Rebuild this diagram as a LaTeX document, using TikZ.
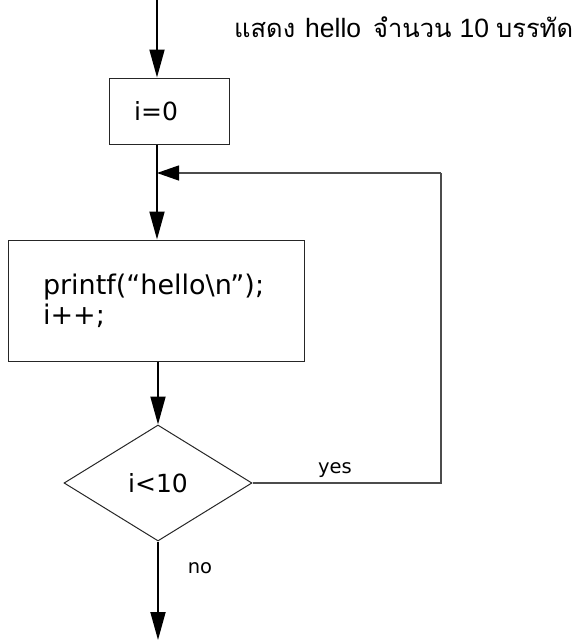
\documentclass[tikz,border=0pt]{standalone}
\usepackage{fontspec}
\setmainfont{DejaVu Sans}
\newfontfamily\thaifont[Script=Thai]{Loma}
\newfontfamily\arialfont{Liberation Sans}
\usetikzlibrary{arrows.meta,shapes.geometric}
\tikzset{
  procbox/.style={draw=black!85, line width=1pt, rectangle, inner sep=0pt},
  decbox/.style={draw=black!85, line width=1pt, diamond, inner sep=0pt, minimum width=188pt, minimum height=116pt, aspect=1.62},
  flow/.style={draw=black, line width=1.8pt, -{Triangle[length=28pt,width=15pt]}},
  loopline/.style={draw=black!70, line width=1.3pt, -{Triangle[length=22pt,width=15pt,fill=black,color=black]}},
  plainline/.style={draw=black!70, line width=1.3pt},
  lbl/.style={font=\fontsize{19.5}{23}\selectfont, inner sep=0pt},
  big/.style={font=\fontsize{25}{30}\selectfont},
  code/.style={font=\fontsize{27}{30}\selectfont}
}
\newcommand{\thaipart}[1]{{\thaifont\fontsize{25.5}{28}\selectfont #1}}
\newcommand{\latinpart}[1]{{\arialfont\fontsize{26.5}{30}\selectfont #1}}
\begin{document}
\begin{tikzpicture}[x=1pt,y=-1pt]
\useasboundingbox (0,0) rectangle (575,640);
% title
\node[anchor=base west, inner sep=0pt] (title) at (234,37)
  {\thaipart{แสดง}\hspace{10pt}\latinpart{hello}\hspace{12pt}\thaipart{จำนวน}\hspace{8pt}\latinpart{10}\hspace{7pt}\thaipart{บรรทัด}};
% nodes
\coordinate (start) at (157,0);
\node[procbox, minimum width=120pt, minimum height=66pt, label={[big, xshift=-13pt]center:i=0}] (init) at (169,111) {};
\node[procbox, minimum width=296pt, minimum height=121pt, text width=226pt, align=left, code] (body) at (156,300.5)
  {printf(“hello\textbackslash n”);\\i++;};
\node[decbox, big] (cond) at (158,483) {i<10};
\coordinate (join) at (157,173);
\coordinate (corner1) at (441,483);
\coordinate (corner2) at (441,173);
\coordinate (endpt) at (158,640);
% connectors
\draw[flow] (start) -- (start |- init.north);
\draw[flow] (init.south -| start) -- (body.north -| start);
\draw[flow] (body.south -| cond.north) -- (cond.north);
\draw[plainline] (cond.east) -- (corner1) -- (corner2);
\draw[loopline] (corner2) -- (join);
\draw[flow] (cond.south) -- (endpt);
% labels
\node[lbl, anchor=base] (yes) at (335,473) {yes};
\node[lbl, anchor=base] (no) at (200,573) {no};
\end{tikzpicture}
\end{document}
